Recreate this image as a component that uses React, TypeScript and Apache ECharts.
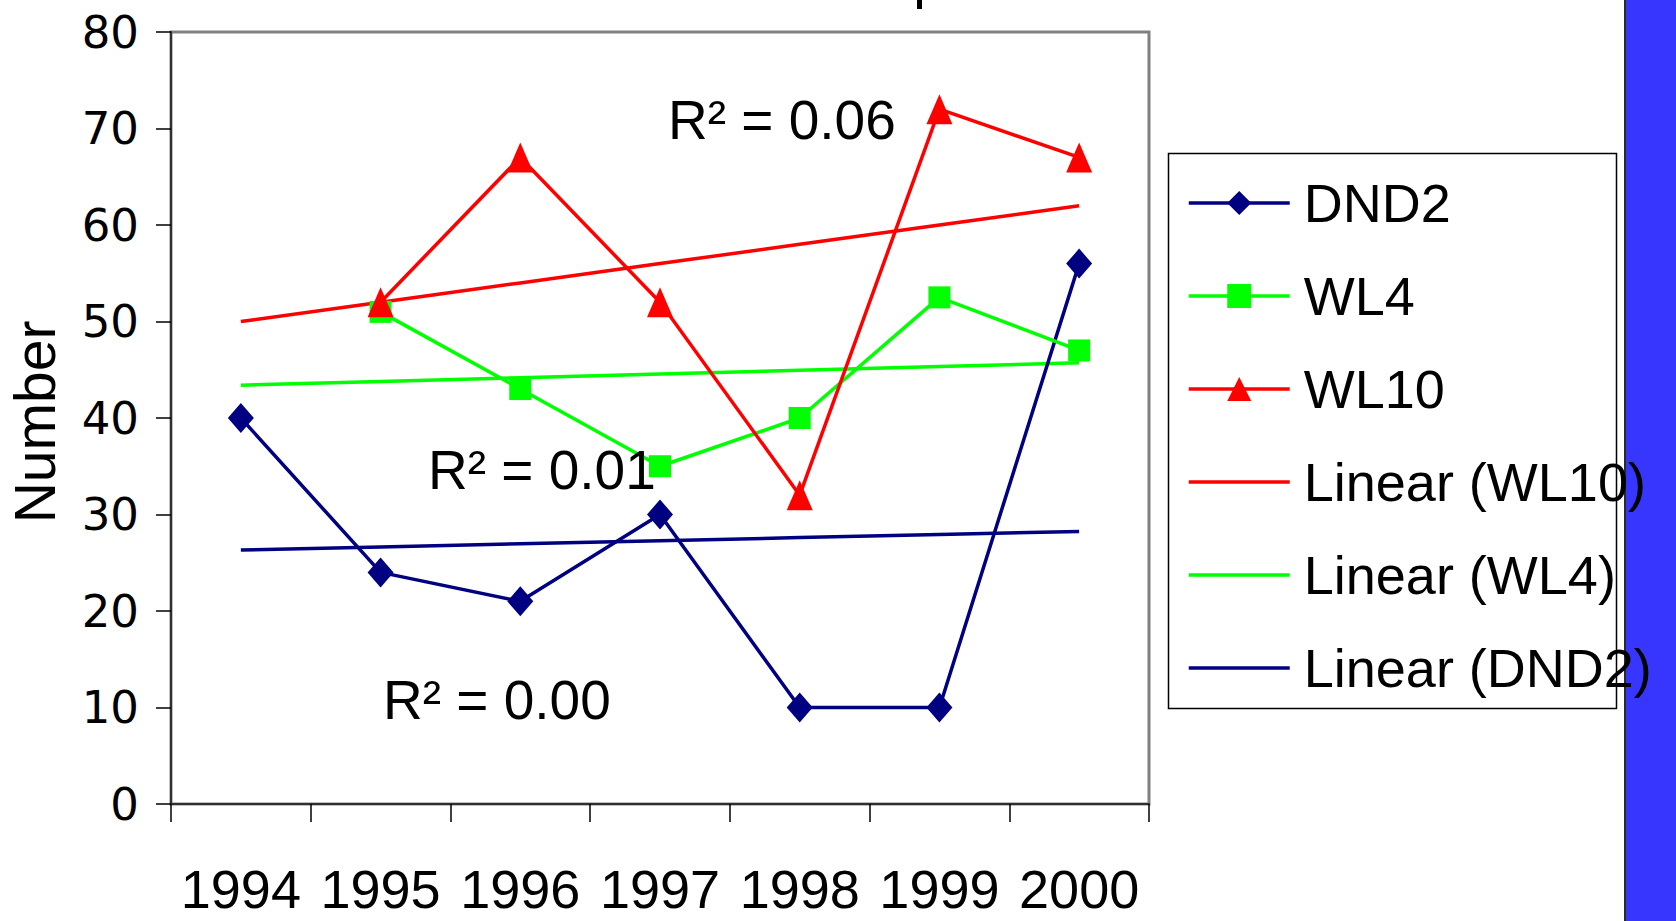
import React, { useEffect, useRef } from "react";
import * as echarts from "echarts";

// Survey counts per year for each site
const years = ["1994", "1995", "1996", "1997", "1998", "1999", "2000"];
const dnd2: (number | null)[] = [40, 24, 21, 30, 10, 10, 56];
const wl4: (number | null)[] = [null, 51, 43, 35, 40, 52.5, 47];
const wl10: (number | null)[] = [null, 52, 67, 52, 32, 72, 67];

const yMin = 0;
const yMax = 80;
const yStep = 10;

const FONT = "'Liberation Sans', Arial, sans-serif";

// Least-squares linear fit over category positions 1..n, skipping blanks
function linearFit(values: (number | null)[]) {
  const pts: [number, number][] = [];
  values.forEach((v, i) => {
    if (v !== null && v !== undefined) pts.push([i + 1, v]);
  });
  const n = pts.length;
  const mx = pts.reduce((s, p) => s + p[0], 0) / n;
  const my = pts.reduce((s, p) => s + p[1], 0) / n;
  let sxx = 0, sxy = 0, syy = 0;
  pts.forEach(([x, y]) => {
    sxx += (x - mx) * (x - mx);
    sxy += (x - mx) * (y - my);
    syy += (y - my) * (y - my);
  });
  const slope = sxy / sxx;
  const intercept = my - slope * mx;
  const r2 = syy === 0 ? 0 : (slope * slope * sxx) / syy;
  const line = values.map((_, i) => +(intercept + slope * (i + 1)).toFixed(4));
  return { line, r2 };
}

const fitDnd2 = linearFit(dnd2);
const fitWl4 = linearFit(wl4);
const fitWl10 = linearFit(wl10);

const NAVY = "#000080";
const GREEN = "#00FF00";
const RED = "#FF0000";
const LW = 3.5;

export default function App() {
  const ref = useRef<HTMLDivElement>(null);

  useEffect(() => {
    if (!ref.current) return;
    const chart = echarts.init(ref.current, undefined, { renderer: "svg" });

    const r2Text = (r2: number) => `R\u00B2 = ${r2.toFixed(2)}`;
    const noMarker = { color: "rgba(0,0,0,0)", borderColor: "rgba(0,0,0,0)", borderWidth: 0 };

    chart.setOption({
      animation: false,
      backgroundColor: "#ffffff",
      grid: {
        left: 171,
        top: 32,
        width: 978,
        height: 772,
        show: true,
        borderColor: "#808080",
        borderWidth: 3,
        backgroundColor: "transparent",
      },
      xAxis: {
        type: "category",
        data: years,
        boundaryGap: true,
        axisLine: { show: true, lineStyle: { color: "#303030", width: 2 } },
        axisTick: { show: true, length: 18, lineStyle: { color: "#000", width: 1.5 } },
        axisLabel: {
          fontSize: 54,
          fontFamily: FONT,
          color: "#000",
          margin: 58,
          interval: 0,
        },
        splitLine: { show: false },
      },
      yAxis: {
        type: "value",
        min: yMin,
        max: yMax,
        interval: yStep,
        axisLine: { show: true, lineStyle: { color: "#303030", width: 2 } },
        axisTick: { show: true, length: 15, lineStyle: { color: "#000", width: 1.5 } },
        axisLabel: {
          fontSize: 45,
          fontFamily: "'DejaVu Sans', sans-serif",
          color: "#000",
          margin: 32,
        },
        splitLine: { show: false },
      },
      legend: {
        orient: "vertical",
        left: 1187,
        top: 173,
        padding: 0,
        itemWidth: 101,
        itemHeight: 30,
        itemGap: 33,
        selectedMode: false,
        z: 10,
        lineStyle: { width: LW },
        textStyle: {
          fontSize: 54,
          fontFamily: FONT,
          color: "#000",
          lineHeight: 60,
          padding: [0, 0, 0, 9],
        },
        data: [
          "DND2",
          "WL4",
          "WL10",
          { name: "Linear (WL10)", itemStyle: noMarker },
          { name: "Linear (WL4)", itemStyle: noMarker },
          { name: "Linear (DND2)", itemStyle: noMarker },
        ],
      },
      series: [
        {
          name: "Linear (WL10)",
          type: "line",
          data: fitWl10.line,
          symbol: "none",
          lineStyle: { color: RED, width: LW },
          itemStyle: { color: RED },
          z: 2,
        },
        {
          name: "Linear (WL4)",
          type: "line",
          data: fitWl4.line,
          symbol: "none",
          lineStyle: { color: GREEN, width: LW },
          itemStyle: { color: GREEN },
          z: 2,
        },
        {
          name: "Linear (DND2)",
          type: "line",
          data: fitDnd2.line,
          symbol: "none",
          lineStyle: { color: NAVY, width: LW },
          itemStyle: { color: NAVY },
          z: 2,
        },
        {
          name: "DND2",
          type: "line",
          data: dnd2,
          symbol: "diamond",
          symbolSize: [26, 30],
          lineStyle: { color: NAVY, width: LW },
          itemStyle: { color: NAVY },
          z: 3,
        },
        {
          name: "WL4",
          type: "line",
          data: wl4,
          symbol: "rect",
          symbolSize: 22,
          lineStyle: { color: GREEN, width: LW },
          itemStyle: { color: GREEN },
          z: 3,
        },
        {
          name: "WL10",
          type: "line",
          data: wl10,
          symbol: "triangle",
          symbolSize: [26, 30],
          lineStyle: { color: RED, width: LW },
          itemStyle: { color: RED },
          z: 3,
        },
      ],
      graphic: [
        // blue side panel
        {
          type: "rect",
          z: 0,
          shape: { x: 1625, y: 0, width: 51, height: 921 },
          style: { fill: "#3636FF" },
        },
        {
          type: "line",
          z: 0,
          shape: { x1: 1625, y1: 0, x2: 1625, y2: 921 },
          style: { stroke: "#2a2a2a", lineWidth: 2 },
        },
        // legend frame
        {
          type: "rect",
          z: 1,
          shape: { x: 1168.5, y: 153.5, width: 448, height: 555 },
          style: { fill: "#ffffff", stroke: "#000", lineWidth: 1.5 },
        },
        // clipped title descender
        {
          type: "rect",
          z: 1,
          shape: { x: 917, y: 0, width: 5, height: 9 },
          style: { fill: "#000" },
        },
        {
          type: "text",
          z: 5,
          x: 35,
          y: 422,
          rotation: Math.PI / 2,
          style: {
            text: "Number",
            fontSize: 57,
            fontFamily: FONT,
            fill: "#000",
            align: "center",
            verticalAlign: "middle",
          },
        },
        {
          type: "text",
          z: 5,
          x: 668,
          y: 120,
          style: {
            text: r2Text(fitWl10.r2),
            fontSize: 55,
            fontFamily: FONT,
            fill: "#000",
            align: "left",
            verticalAlign: "middle",
          },
        },
        {
          type: "text",
          z: 5,
          x: 428,
          y: 470,
          style: {
            text: r2Text(fitWl4.r2),
            fontSize: 55,
            fontFamily: FONT,
            fill: "#000",
            align: "left",
            verticalAlign: "middle",
          },
        },
        {
          type: "text",
          z: 5,
          x: 383,
          y: 700,
          style: {
            text: r2Text(fitDnd2.r2),
            fontSize: 55,
            fontFamily: FONT,
            fill: "#000",
            align: "left",
            verticalAlign: "middle",
          },
        },
      ],
    });

    return () => chart.dispose();
  }, []);

  return (
    <div
      ref={ref}
      style={{ position: "absolute", left: 0, top: 0, width: 1676, height: 921 }}
    />
  );
}
